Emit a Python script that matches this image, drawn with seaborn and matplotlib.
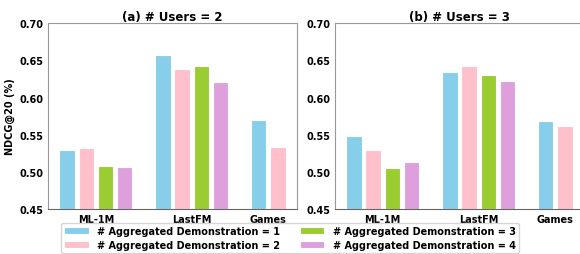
import matplotlib
matplotlib.use("Agg")
import matplotlib.pyplot as plt
import seaborn as sns
import pandas as pd
import numpy as np

datasets = ["ML-1M", "LastFM", "Games"]
series = ["# Aggregated Demonstration = 1", "# Aggregated Demonstration = 2",
          "# Aggregated Demonstration = 3", "# Aggregated Demonstration = 4"]
colors = ["#87CEEB", "#FFC0CB", "#9ACD32", "#DDA0DD"]

# users = 2 (None = no bar)
u2_d1 = [0.529, 0.657, 0.570]
u2_d2 = [0.532, 0.639, 0.533]
u2_d3 = [0.508, 0.642, None]
u2_d4 = [0.506, 0.621, None]
# users = 3
u3_d1 = [0.548, 0.635, 0.569]
u3_d2 = [0.529, 0.643, 0.562]
u3_d3 = [0.505, 0.630, None]
u3_d4 = [0.513, 0.622, None]

titles = ["(a) # Users = 2", "(b) # Users = 3"]
panels = [[u2_d1, u2_d2, u2_d3, u2_d4], [u3_d1, u3_d2, u3_d3, u3_d4]]

sns.set_style("white")
plt.rcParams['font.family'] = ['DejaVu Sans']
plt.rcParams['text.color'] = 'black'
plt.rcParams['axes.labelcolor'] = 'black'
plt.rcParams['xtick.color'] = 'black'
plt.rcParams['ytick.color'] = 'black'

fig = plt.figure(figsize=(5.8, 2.55), dpi=100)
axes = [fig.add_axes([0.0828, 0.1765, 0.429, 0.7285]),
        fig.add_axes([0.5776, 0.1765, 0.429, 0.7285])]

width = 0.16
step = 0.2
for ax, title, vals in zip(axes, titles, panels):
    ticks = []
    for g, name in enumerate(datasets):
        xs = []
        for i, s in enumerate(vals):
            v = s[g]
            if v is None:
                continue
            x = g + (i - 1.5) * step
            xs.append(x)
            ax.bar(x, v - 0.45, bottom=0.45, width=width, color=colors[i],
                   edgecolor="white", linewidth=0.8,
                   label=series[i] if g == 0 else None)
        ticks.append(np.mean(xs))
    ax.set_xticks(ticks)
    ax.set_xticklabels(datasets, fontsize=7, fontweight="bold")
    ax.set_ylim(0.45, 0.70)
    ax.set_yticks([0.45, 0.50, 0.55, 0.60, 0.65, 0.70])
    ax.set_yticklabels([f"{t:.2f}" for t in [0.45, 0.50, 0.55, 0.60, 0.65, 0.70]],
                       fontsize=7, fontweight="bold")
    ax.margins(x=0.05)
    ax.set_title(title, fontsize=8.5, fontweight="bold", pad=2, color="black")
    ax.tick_params(axis="both", length=2, width=0.6, color="#888888", pad=1.5,
                   labelcolor="black")
    for sp in ax.spines.values():
        sp.set_color("#999999")
        sp.set_linewidth(0.8)
    ax.spines["bottom"].set_color("#666666")

axes[0].set_ylabel("NDCG@20 (%)", fontsize=7, fontweight="bold", labelpad=3,
                   color="black")

handles, labels = axes[0].get_legend_handles_labels()
fig.legend(handles, labels,
           loc="lower center", bbox_to_anchor=(0.5, -0.015), ncol=2,
           prop={"size": 7, "weight": "bold"}, frameon=True,
           handlelength=2.5, columnspacing=2.0, handletextpad=0.9,
           labelspacing=0.45, borderpad=0.3)

fig.savefig("out.png", dpi=100)
